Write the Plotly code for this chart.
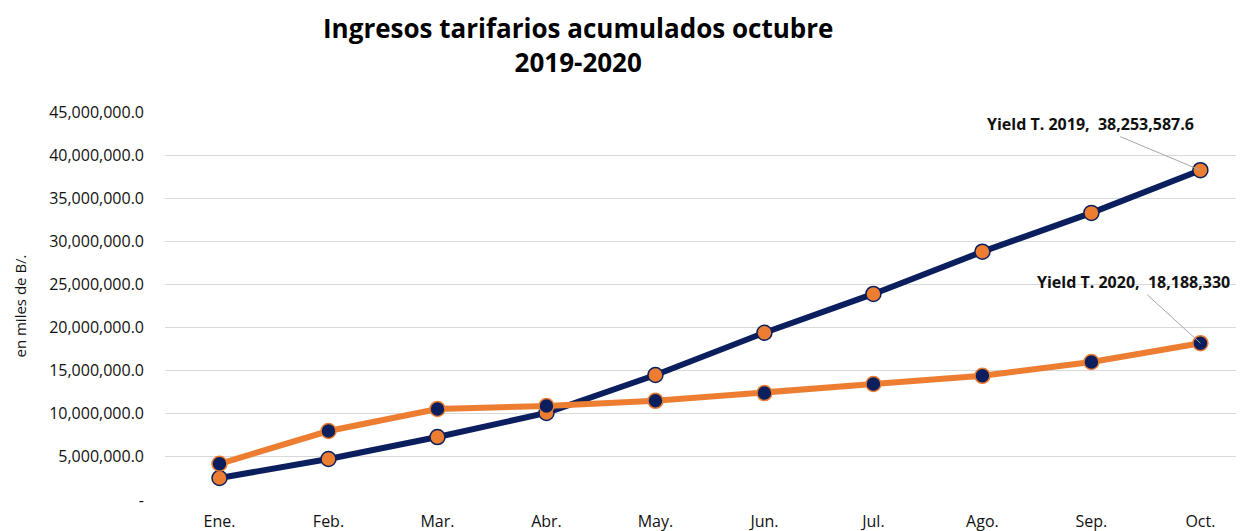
import plotly.graph_objects as go

meses = ["Ene.", "Feb.", "Mar.", "Abr.", "May.", "Jun.", "Jul.", "Ago.", "Sep.", "Oct."]
yield_2019 = [2550000, 4760000, 7300000, 10100000, 14500000, 19400000, 23900000, 28800000, 33300000, 38253587.6]
yield_2020 = [4200000, 8000000, 10560000, 10900000, 11500000, 12400000, 13450000, 14400000, 16000000, 18188330]
y_ticks = [0, 5e6, 10e6, 15e6, 20e6, 25e6, 30e6, 35e6, 40e6, 45e6]

navy = "#0b1f5e"
orange = "#ed7d31"
font = "Open Sans"

y_labels = ["-" if v == 0 else f"{v:,.1f}" for v in y_ticks]

fig = go.Figure()
fig.add_trace(go.Scatter(
    x=meses, y=yield_2019, mode="lines+markers", name="Yield T. 2019",
    line=dict(color=navy, width=6),
    marker=dict(size=15, color=orange, line=dict(color=navy, width=1.5)),
))
fig.add_trace(go.Scatter(
    x=meses, y=yield_2020, mode="lines+markers", name="Yield T. 2020",
    line=dict(color=orange, width=6),
    marker=dict(size=15, color=navy, line=dict(color=orange, width=1.5)),
))

# etiquetas de los ultimos valores
fig.add_annotation(
    x=meses[-1], y=yield_2019[-1], ax=-110, ay=-46,
    text=f"<b>Yield T. 2019,  {yield_2019[-1]:,.1f}</b>",
    showarrow=True, arrowhead=0, arrowwidth=1, arrowcolor="#a6a6a6",
    font=dict(family=font, size=16, color="#111111"),
)
fig.add_annotation(
    x=meses[-1], y=yield_2020[-1], ax=-67, ay=-61,
    text=f"<b>Yield T. 2020,  {yield_2020[-1]:,.0f}</b>",
    showarrow=True, arrowhead=0, arrowwidth=1, arrowcolor="#a6a6a6",
    font=dict(family=font, size=16, color="#111111"),
)

# titulo como anotacion (dos lineas)
fig.add_annotation(
    xref="paper", yref="paper", x=(578 - 165) / (1244 - 165), y=1,
    xanchor="center", yanchor="bottom", yshift=30, showarrow=False,
    text="<b>Ingresos tarifarios acumulados octubre<br>2019-2020</b>",
    font=dict(family=font, size=26, color="#000000"),
)

# la pagina tiene 8px de margen en el body
fig.update_layout(
    width=1236, height=523,
    margin=dict(l=157, r=0, t=104, b=31),
    paper_bgcolor="white", plot_bgcolor="white",
    showlegend=False,
    font=dict(family=font, color="#111111"),
    xaxis=dict(
        range=[-0.5, 9.4], showgrid=False, showline=False, zeroline=False,
        tickfont=dict(size=16, color="#111111"), ticklabelstandoff=10,
    ),
    yaxis=dict(
        range=[0, 45e6], tickvals=y_ticks, ticktext=y_labels,
        showgrid=True, gridcolor="#d9d9d9", gridwidth=1, zeroline=False,
        tickfont=dict(size=16, color="#111111"), ticklabelstandoff=20,
        title=dict(text="en miles de B/.", font=dict(size=15, color="#111111"), standoff=18),
    ),
)

fig.write_html("out.html")
